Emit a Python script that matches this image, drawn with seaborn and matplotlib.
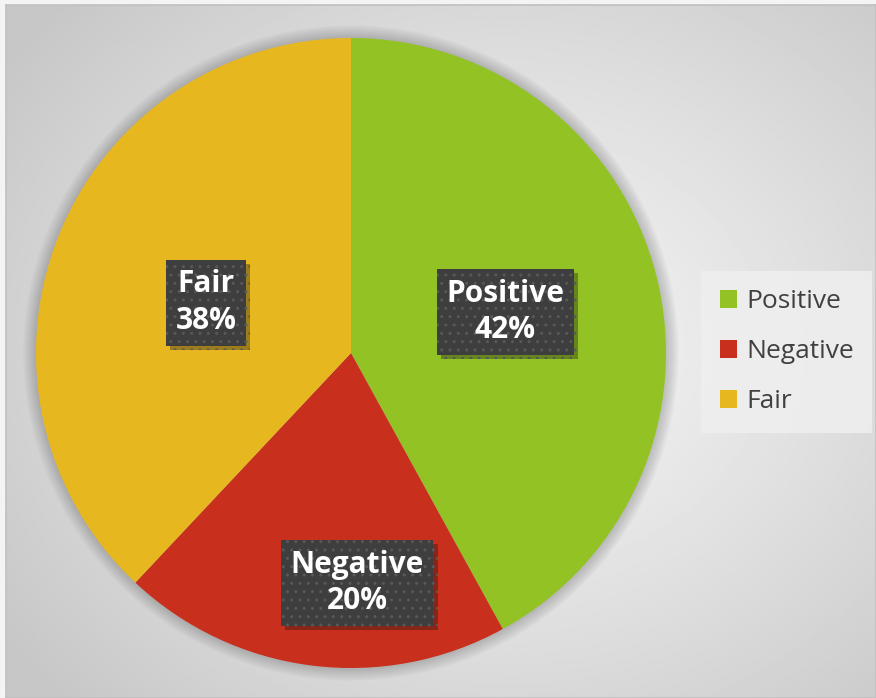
import numpy as np
import matplotlib.pyplot as plt
import matplotlib.patheffects as pe
import seaborn as sns

categories = ['Positive', 'Negative', 'Fair']
shares = [42, 20, 38]
colors = ['#93c225', '#c82f1c', '#e7b720']
# label box centres in pie data units
label_pos = [(0.49, 0.13), (0.02, -0.73), (-0.46, 0.16)]

sns.set_theme(style="white")
plt.rcParams['font.family'] = ['Open Sans', 'DejaVu Sans']

fig = plt.figure(figsize=(8.76, 6.98), dpi=100)
fig.patch.set_facecolor('#f4f4f4')

# radial grey background with a thin frame
bg = fig.add_axes([6 / 876, 0, 870 / 876, 693 / 698])
yy, xx = np.mgrid[-1:1:300j, -1:1:380j]
r = np.sqrt((xx - 0.15) ** 2 + (yy * 0.95) ** 2)
bg.imshow(0.96 - 0.18 * np.clip(r / 1.4, 0, 1) ** 1.2, cmap='gray',
          vmin=0, vmax=1, aspect='auto', extent=[0, 1, 0, 1])
bg.set_xticks([])
bg.set_yticks([])
for s in bg.spines.values():
    s.set_color('#c0c0c0')
    s.set_linewidth(1.2)

ax = fig.add_axes([36 / 876, 30 / 698, 630 / 876, 630 / 698])

# soft shadow around the pie
for k in range(8):
    ax.add_patch(plt.Circle((0, 0), 1 + 0.005 * (k + 1), color='black',
                            alpha=0.025, lw=0, zorder=0, clip_on=False))

wedges, _ = ax.pie(shares, colors=colors, startangle=90, counterclock=False,
                   radius=1, wedgeprops=dict(linewidth=0))
for w in wedges:
    w.set_zorder(1)
ax.set_xlim(-1, 1)
ax.set_ylim(-1, 1)
ax.axis('off')

for cat, val, (x, y) in zip(categories, shares, label_pos):
    t = ax.text(x, y, f'{cat}\n{val}%', ha='center', va='center',
                fontsize=21.5, fontweight='bold', color='white',
                linespacing=1.3,
                bbox=dict(boxstyle='square,pad=0.32', facecolor='#3e3e3e',
                          edgecolor='#585858', hatch='..', linewidth=0),
                zorder=4)
    t.get_bbox_patch().set_path_effects(
        [pe.SimplePatchShadow(offset=(3, -3), alpha=0.35), pe.Normal()])

leg = ax.legend(wedges, categories, loc='center',
                bbox_to_anchor=(0.898, 0.496), bbox_transform=fig.transFigure,
                fontsize=19, frameon=True, fancybox=False, handlelength=0.65,
                handleheight=0.65, handletextpad=0.35, labelspacing=0.95,
                borderpad=0.7)
leg.get_frame().set_facecolor('#efefef')
leg.get_frame().set_edgecolor('none')
leg.get_frame().set_alpha(0.85)
for t in leg.get_texts():
    t.set_color('#404040')

fig.savefig('out.png', dpi=100)
